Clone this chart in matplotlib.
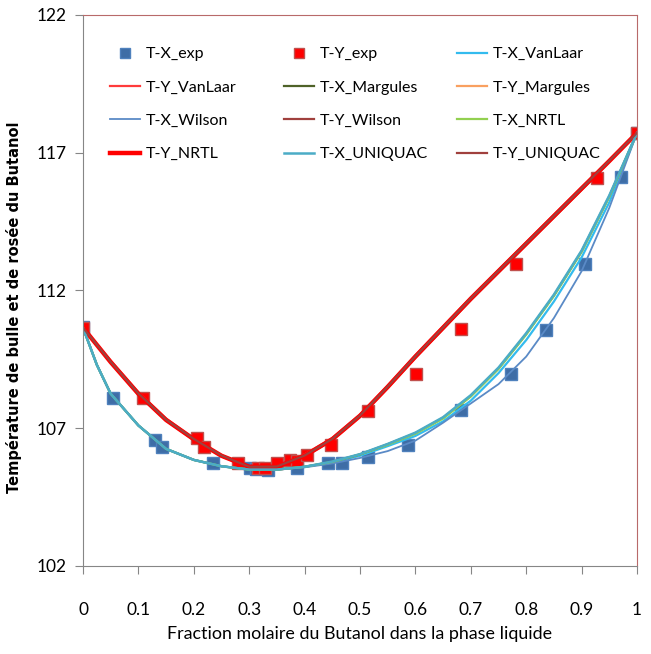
import matplotlib
matplotlib.use("Agg")
import matplotlib.pyplot as plt

# experimental points (liquid / vapour)
x_exp = [0, 0.054, 0.130, 0.143, 0.234, 0.301, 0.313, 0.334, 0.387, 0.443,
         0.468, 0.514, 0.586, 0.683, 0.773, 0.836, 0.906, 0.972, 1.0]
tx_exp = [110.67, 108.09, 106.57, 106.32, 105.75, 105.55, 105.51, 105.48, 105.55, 105.73,
          105.74, 105.95, 106.38, 107.66, 108.97, 110.57, 112.96, 116.11, 117.72]

y_exp = [0, 0.108, 0.206, 0.218, 0.280, 0.316, 0.329, 0.350, 0.374, 0.386,
         0.405, 0.447, 0.515, 0.601, 0.682, 0.782, 0.927, 1.0]
ty_exp = [110.64, 108.09, 106.63, 106.33, 105.75, 105.55, 105.55, 105.75, 105.85, 105.82,
          106.01, 106.39, 107.61, 108.96, 110.59, 112.96, 116.07, 117.73]

# model curves, bubble (T-X)
xg = [0, 0.025, 0.05, 0.1, 0.15, 0.2, 0.25, 0.3, 0.35, 0.4, 0.45,
      0.5, 0.55, 0.6, 0.65, 0.7, 0.75, 0.8, 0.85, 0.9, 0.95, 1.0]
tx_vanlaar = [110.65, 109.3, 108.25, 107.1, 106.25, 105.85, 105.62, 105.5, 105.5, 105.6, 105.76,
              106.0, 106.35, 106.72, 107.25, 108.0, 109.0, 110.2, 111.6, 113.2, 115.2, 117.72]
tx_margules = [110.65, 109.3, 108.25, 107.1, 106.25, 105.85, 105.62, 105.5, 105.5, 105.6, 105.78,
               106.05, 106.42, 106.82, 107.38, 108.17, 109.17, 110.42, 111.82, 113.42, 115.42, 117.72]
tx_wilson = [110.65, 109.3, 108.25, 107.1, 106.25, 105.85, 105.62, 105.5, 105.5, 105.58, 105.72,
             105.92, 106.17, 106.55, 107.2, 107.9, 108.6, 109.6, 111.0, 112.7, 115.0, 117.72]
tx_nrtl = [110.65, 109.3, 108.25, 107.1, 106.25, 105.85, 105.62, 105.5, 105.5, 105.6, 105.78,
           106.05, 106.4, 106.8, 107.35, 108.15, 109.15, 110.4, 111.8, 113.4, 115.4, 117.72]
tx_uniquac = [110.65, 109.3, 108.25, 107.1, 106.25, 105.85, 105.62, 105.5, 105.5, 105.6, 105.79,
              106.06, 106.43, 106.84, 107.4, 108.2, 109.2, 110.45, 111.85, 113.45, 115.45, 117.72]

# model curves, dew (T-Y)
yg = [0, 0.05, 0.1, 0.15, 0.2, 0.25, 0.3, 0.35, 0.4, 0.45,
      0.5, 0.55, 0.6, 0.65, 0.7, 0.75, 0.8, 0.85, 0.9, 0.95, 1.0]
ty_vanlaar = [110.65, 109.45, 108.3, 107.35, 106.62, 106.02, 105.6, 105.62, 106.05, 106.65,
              107.5, 108.55, 109.65, 110.7, 111.75, 112.75, 113.75, 114.75, 115.75, 116.72, 117.72]
ty_margules = [110.65, 109.42, 108.28, 107.32, 106.6, 106.0, 105.6, 105.6, 106.02, 106.62,
               107.47, 108.52, 109.62, 110.67, 111.72, 112.72, 113.72, 114.72, 115.72, 116.7, 117.72]
ty_wilson = [110.65, 109.38, 108.22, 107.28, 106.57, 105.98, 105.58, 105.58, 105.97, 106.57,
             107.42, 108.46, 109.56, 110.6, 111.65, 112.65, 113.65, 114.65, 115.65, 116.67, 117.72]
ty_nrtl = [110.65, 109.4, 108.25, 107.3, 106.6, 106.0, 105.6, 105.6, 106.0, 106.6,
           107.45, 108.5, 109.6, 110.65, 111.7, 112.7, 113.7, 114.7, 115.7, 116.7, 117.72]
ty_uniquac = [110.65, 109.41, 108.26, 107.31, 106.61, 106.01, 105.6, 105.61, 106.01, 106.61,
              107.46, 108.51, 109.61, 110.66, 111.71, 112.71, 113.71, 114.71, 115.71, 116.71, 117.72]

xticks = [0, 0.1, 0.2, 0.3, 0.4, 0.5, 0.6, 0.7, 0.8, 0.9, 1]
xticklabels = ["0", "0.1", "0.2", "0.3", "0.4", "0.5", "0.6", "0.7", "0.8", "0.9", "1"]
yticks = [102, 107, 112, 117, 122]

plt.rcParams["font.family"] = ["Lato", "DejaVu Sans"]

fig = plt.figure(figsize=(6.51, 6.54), dpi=100)
ax = fig.add_axes([0.1275, 0.1346, 0.851, 0.8425])

h = []
h += ax.plot(x_exp, tx_exp, "s", color="#3e6da6", mec="#4f81bd", ms=9, label="T-X_exp")
h += ax.plot(y_exp, ty_exp, "s", color="#ff0000", mec="#c0504d", ms=9, label="T-Y_exp")
h += ax.plot(xg, tx_vanlaar, color="#33bbee", lw=1.6, label="T-X_VanLaar")
h += ax.plot(yg, ty_vanlaar, color="#ff3b3b", lw=1.6, label="T-Y_VanLaar")
h += ax.plot(xg, tx_margules, color="#4f6228", lw=1.6, label="T-X_Margules")
h += ax.plot(yg, ty_margules, color="#f9a060", lw=1.6, label="T-Y_Margules")
h += ax.plot(xg, tx_wilson, color="#5a8ac6", lw=1.3, label="T-X_Wilson")
h += ax.plot(yg, ty_wilson, color="#a0403d", lw=1.6, label="T-Y_Wilson")
h += ax.plot(xg, tx_nrtl, color="#92d050", lw=1.6, label="T-X_NRTL")
h += ax.plot(yg, ty_nrtl, color="#ff0000", lw=3.2, label="T-Y_NRTL")
h += ax.plot(xg, tx_uniquac, color="#4bacc6", lw=1.8, label="T-X_UNIQUAC")
h += ax.plot(yg, ty_uniquac, color="#a0403d", lw=1.6, label="T-Y_UNIQUAC")

# Excel lays the legend out row by row with equal column widths:
# one legend per column, placed side by side
col_x = [0.0235, 0.3375, 0.65]
for c in range(3):
    hh = h[c::3]
    leg = ax.legend(hh, [l.get_label() for l in hh], loc="upper left",
                    bbox_to_anchor=(col_x[c], 0.968), frameon=False,
                    fontsize=11.5, handlelength=1.85, handletextpad=0.35,
                    labelspacing=1.2, markerscale=0.85)
    if c < 2:
        ax.add_artist(leg)

ax.set_xlim(0, 1)
ax.set_ylim(102, 122)
ax.set_xticks(xticks)
ax.set_xticklabels(xticklabels)
ax.set_yticks(yticks)
ax.tick_params(axis="x", length=6, color="#868686", pad=20, labelsize=12.5)
ax.tick_params(axis="y", length=6, color="#868686", pad=6, labelsize=12.5)

for s in ["left", "bottom"]:
    ax.spines[s].set_color("#868686")
for s in ["top", "right"]:
    ax.spines[s].set_color("#b86a6a")

ax.set_xlabel("Fraction molaire du Butanol dans la phase liquide", fontsize=12.9, labelpad=6)
ax.set_ylabel("Température de bulle et de rosée du Butanol", fontsize=10.5,
              fontweight="bold", family="DejaVu Sans")
ax.yaxis.set_label_coords(-0.11, 0.469)

fig.savefig("out.png", dpi=100)
